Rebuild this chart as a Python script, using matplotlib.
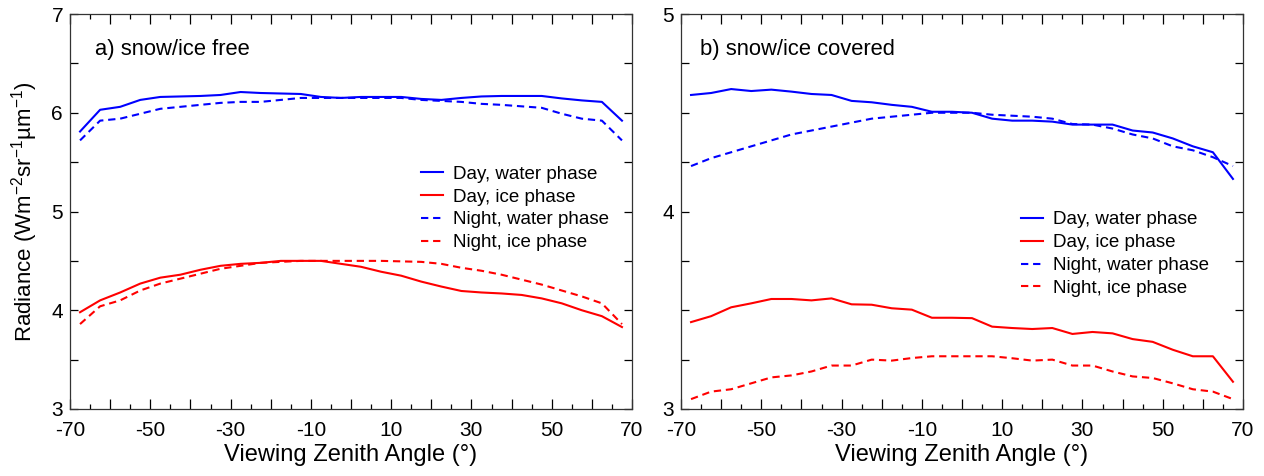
import matplotlib
matplotlib.use("Agg")
import matplotlib.pyplot as plt
from matplotlib.ticker import MultipleLocator, FixedLocator, FixedFormatter

plt.rcParams['font.family'] = ['Liberation Sans', 'DejaVu Sans']
plt.rcParams['mathtext.fontset'] = 'custom'
plt.rcParams['mathtext.rm'] = 'Liberation Sans'
plt.rcParams['mathtext.it'] = 'Liberation Sans'

# Viewing zenith angles (deg)
vza = [-67.5, -62.5, -57.5, -52.5, -47.5, -42.5, -37.5, -32.5, -27.5, -22.5,
       -17.5, -12.5, -7.5, -2.5, 2.5, 7.5, 12.5, 17.5, 22.5, 27.5,
       32.5, 37.5, 42.5, 47.5, 52.5, 57.5, 62.5, 67.5]

# a) snow/ice free
a_day_water = [5.81, 6.03, 6.06, 6.13, 6.16, 6.165, 6.17, 6.18, 6.21, 6.20,
               6.195, 6.19, 6.16, 6.15, 6.16, 6.16, 6.16, 6.14, 6.13, 6.15,
               6.165, 6.17, 6.17, 6.17, 6.145, 6.125, 6.11, 5.92]
a_day_ice = [3.98, 4.10, 4.18, 4.27, 4.33, 4.36, 4.41, 4.45, 4.47, 4.48,
             4.50, 4.50, 4.50, 4.47, 4.44, 4.39, 4.35, 4.29, 4.24, 4.195,
             4.18, 4.17, 4.155, 4.12, 4.07, 4.00, 3.94, 3.83]
a_night_water = [5.72, 5.92, 5.94, 5.99, 6.04, 6.06, 6.08, 6.10, 6.11, 6.11,
                 6.13, 6.15, 6.15, 6.15, 6.15, 6.15, 6.15, 6.13, 6.12, 6.11,
                 6.09, 6.08, 6.065, 6.05, 5.99, 5.94, 5.92, 5.72]
a_night_ice = [3.86, 4.04, 4.10, 4.20, 4.27, 4.32, 4.37, 4.42, 4.45, 4.48,
               4.49, 4.50, 4.50, 4.50, 4.50, 4.50, 4.495, 4.49, 4.47, 4.43,
               4.40, 4.36, 4.31, 4.26, 4.20, 4.14, 4.07, 3.86]

# b) snow/ice covered
b_day_water = [4.59, 4.60, 4.62, 4.61, 4.617, 4.607, 4.595, 4.59, 4.56, 4.553,
               4.54, 4.53, 4.505, 4.505, 4.50, 4.47, 4.46, 4.46, 4.455, 4.44,
               4.44, 4.44, 4.41, 4.40, 4.37, 4.33, 4.30, 4.165]
b_day_ice = [3.44, 3.47, 3.515, 3.535, 3.557, 3.557, 3.55, 3.56, 3.53, 3.528,
             3.51, 3.503, 3.462, 3.462, 3.46, 3.417, 3.41, 3.405, 3.41, 3.38,
             3.39, 3.383, 3.354, 3.34, 3.30, 3.267, 3.267, 3.138]
b_night_water = [4.23, 4.27, 4.30, 4.33, 4.36, 4.39, 4.41, 4.43, 4.45, 4.47,
                 4.48, 4.49, 4.50, 4.50, 4.50, 4.49, 4.485, 4.48, 4.47, 4.443,
                 4.44, 4.42, 4.39, 4.37, 4.33, 4.31, 4.275, 4.23]
b_night_ice = [3.05, 3.088, 3.10, 3.13, 3.16, 3.17, 3.19, 3.22, 3.22, 3.25,
               3.245, 3.258, 3.267, 3.267, 3.267, 3.267, 3.257, 3.245, 3.25, 3.22,
               3.22, 3.19, 3.165, 3.157, 3.13, 3.10, 3.088, 3.05]

series_labels = ['Day, water phase', 'Day, ice phase', 'Night, water phase', 'Night, ice phase']
panel_titles = ['a) snow/ice free', 'b) snow/ice covered']
xlabel = 'Viewing Zenith Angle (°)'
ylabel = 'Radiance (Wm$^{-2}$sr$^{-1}$µm$^{-1}$)'
xtick_vals = list(range(-70, 71, 10))
xtick_labels = ['-70', '', '-50', '', '-30', '', '-10', '', '10', '', '30', '', '50', '', '70']

fig = plt.figure(figsize=(12.64, 4.76), dpi=100)
ax1 = fig.add_axes([70/1264, 1-409/476, 562/1264, 395/476])
ax2 = fig.add_axes([681/1264, 1-409/476, 562/1264, 395/476])

dash = (0, (3.5, 2.3))
lw = 1.5

def draw(ax, dw, di, nw, ni, ylim, ymajor, yminor, title, title_x, leg_xy):
    ax.plot(vza, dw, color='#0000ff', lw=lw, label=series_labels[0])
    ax.plot(vza, di, color='#ff0000', lw=lw, label=series_labels[1])
    ax.plot(vza, nw, color='#0000ff', lw=lw, ls=dash, label=series_labels[2])
    ax.plot(vza, ni, color='#ff0000', lw=lw, ls=dash, label=series_labels[3])
    ax.set_xlim(-70, 70)
    ax.set_ylim(*ylim)
    ax.xaxis.set_major_locator(FixedLocator(xtick_vals))
    ax.xaxis.set_major_formatter(FixedFormatter(xtick_labels))
    ax.xaxis.set_minor_locator(MultipleLocator(5))
    ax.yaxis.set_major_locator(MultipleLocator(ymajor))
    ax.yaxis.set_minor_locator(MultipleLocator(yminor))
    ax.tick_params(which='both', direction='in', top=True, right=True, width=0.9)
    ax.tick_params(which='major', axis='x', length=7.5, labelsize=15, pad=8.5)
    ax.tick_params(which='minor', axis='x', length=3.8)
    ax.tick_params(which='both', axis='y', length=5.5, labelsize=15, pad=5)
    for s in ax.spines.values():
        s.set_linewidth(0.9)
        s.set_color('#333333')
    ax.set_xlabel(xlabel, fontsize=17, labelpad=3)
    ax.text(title_x, 0.91, title, transform=ax.transAxes, fontsize=15.8,
            va='center', ha='left')
    ax.legend(loc='upper left', bbox_to_anchor=leg_xy, frameon=False, fontsize=13.5,
              handlelength=1.17, handletextpad=0.53, labelspacing=0.31, borderpad=0,
              borderaxespad=0)
    for lab in ax.get_yticklabels():
        lab.set_verticalalignment('center_baseline')

draw(ax1, a_day_water, a_day_ice, a_night_water, a_night_ice, (3, 7), 1, 0.5,
     panel_titles[0], 0.045, (0.6246, 0.6165))
draw(ax2, b_day_water, b_day_ice, b_night_water, b_night_ice, (3, 5), 1, 0.25,
     panel_titles[1], 0.034, (0.605, 0.501))
ax1.set_ylabel(ylabel, fontsize=16, labelpad=8)

fig.savefig('out.png', dpi=100)
